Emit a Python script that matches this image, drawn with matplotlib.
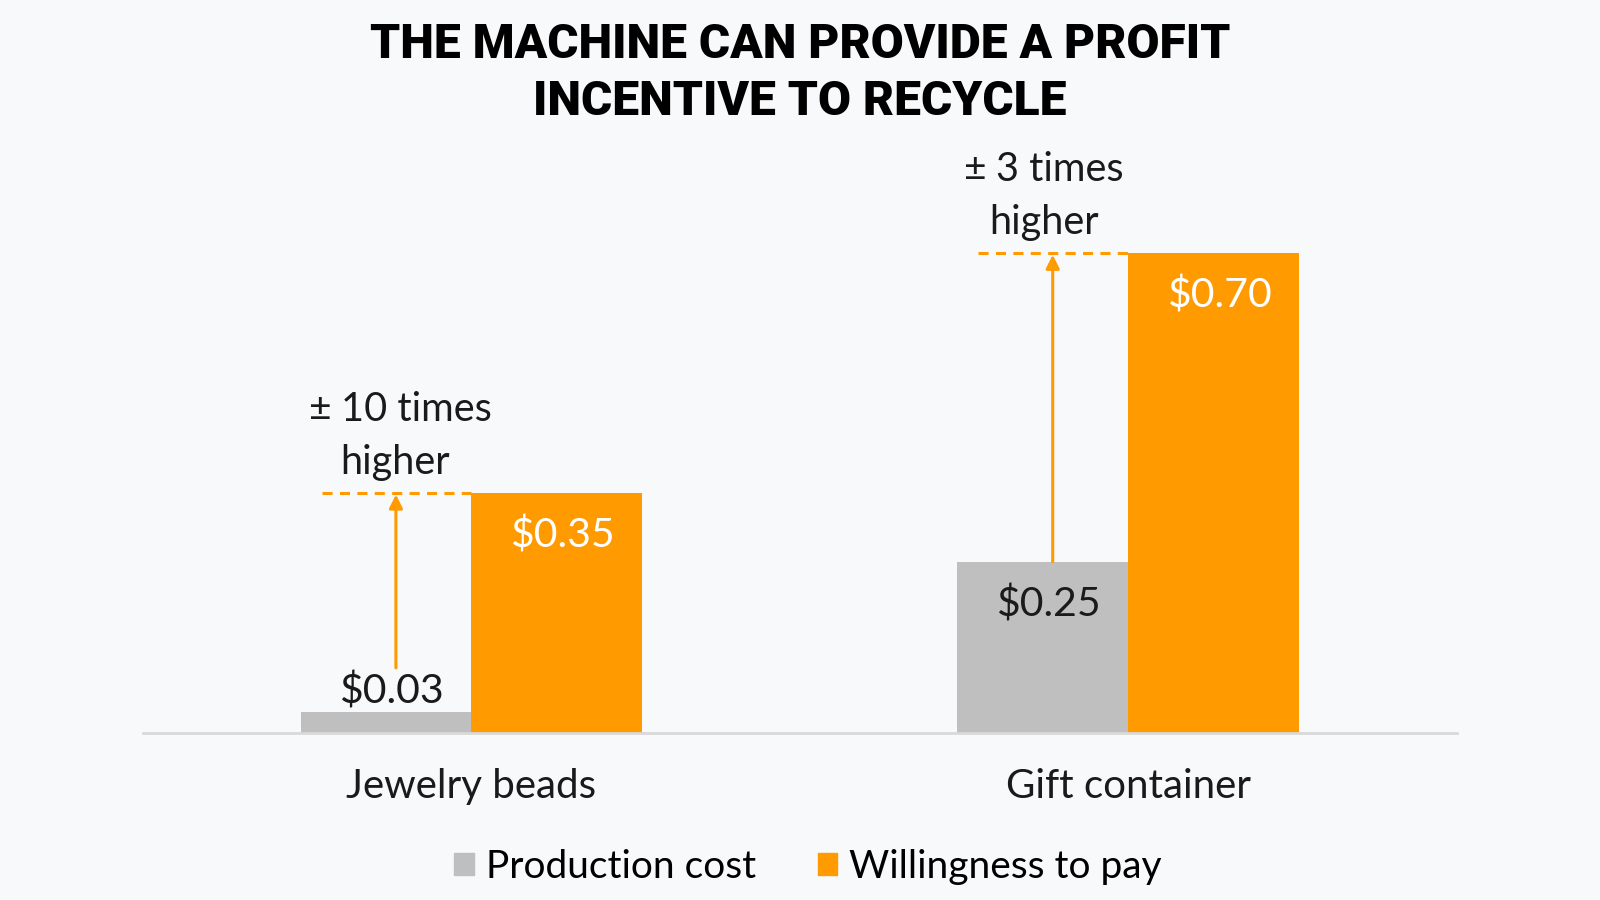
import matplotlib; matplotlib.use("Agg")
import matplotlib.pyplot as plt
from matplotlib.patches import Patch
import numpy as np

plt.rcParams["font.family"] = ["Lato", "DejaVu Sans"]

categories = ["Jewelry beads", "Gift container"]
production_cost = [0.03, 0.25]
willingness = [0.35, 0.70]
multipliers = ["10", "3"]

GREY = "#BFBFBF"
ORANGE = "#FF9A00"
BG = "#F8F9FB"

fig = plt.figure(figsize=(16, 9), dpi=100, facecolor=BG)
ax = fig.add_axes([0.0894, 0.1856, 0.821, 0.685], facecolor=BG)
x = np.arange(len(categories))
w = 0.26
ax.bar(x - w / 2, production_cost, w, color=GREY, zorder=2)
ax.bar(x + w / 2, willingness, w, color=ORANGE, zorder=2)
ax.set_xlim(-0.5, 1.5); ax.set_ylim(0, 0.9)
for s in ("top", "right", "left"):
    ax.spines[s].set_visible(False)
ax.spines["bottom"].set_color("#D9D9D9"); ax.spines["bottom"].set_linewidth(2)
ax.set_yticks([])
ax.set_xticks(x); ax.set_xticklabels(categories, fontsize=29, color="#1a1a1a")
ax.tick_params(axis="x", length=0, pad=25)

# value labels
for i in range(len(categories)):
    ax.text(x[i] - w / 2 + 0.008, production_cost[i] + (0.031 if production_cost[i] < 0.1 else -0.062),
            f"${production_cost[i]:.2f}", ha="center", va="center", fontsize=29.5, color="#1a1a1a")
    ax.text(x[i] + w / 2 + 0.009, willingness[i] - 0.062, f"${willingness[i]:.2f}",
            ha="center", va="center", fontsize=29.5, color="white")

# difference arrows and dashed guides
for i in range(len(categories)):
    ax.plot([x[i] - 0.228, x[i]], [willingness[i]] * 2, ls=(0, (3.3, 2.4)), color=ORANGE, lw=2.2, zorder=1)
    start = production_cost[i] if production_cost[i] > 0.1 else 0.095
    ax.annotate("", xy=(x[i] - 0.115, willingness[i] - 0.002), xytext=(x[i] - 0.115, start),
                arrowprops=dict(arrowstyle="-|>", color=ORANGE, lw=2.2, mutation_scale=20,
                                shrinkA=0, shrinkB=0))
    tx = x[i] - 0.247 if i == 0 else x[i] - 0.25
    ty = willingness[i] + 0.122
    ax.text(tx, ty, "±", fontsize=28, color="#1a1a1a", ha="left", va="center")
    ax.text(tx + 0.048, ty, f"{multipliers[i]} times", fontsize=28.5, color="#1a1a1a", ha="left", va="center")
    ax.text(tx + (0.048 if i == 0 else 0.038), ty - 0.077, "higher", fontsize=28.5, color="#1a1a1a",
            ha="left", va="center")

fig.text(0.5, 0.918, "THE MACHINE CAN PROVIDE A PROFIT\nINCENTIVE TO RECYCLE", ha="center", va="center",
         fontsize=34.5, fontweight="black", color="black", linespacing=1.3,
         family=["Roboto", "Lato", "DejaVu Sans"])

handles = [Patch(color=GREY, label="Production cost"), Patch(color=ORANGE, label="Willingness to pay")]
fig.legend(handles=handles, loc="center", bbox_to_anchor=(0.505, 0.037), ncol=2, frameon=False,
           fontsize=28, handlelength=0.5, handleheight=0.5, handletextpad=0.3, columnspacing=1.6)

fig.savefig("out.png", dpi=100, facecolor=BG)
